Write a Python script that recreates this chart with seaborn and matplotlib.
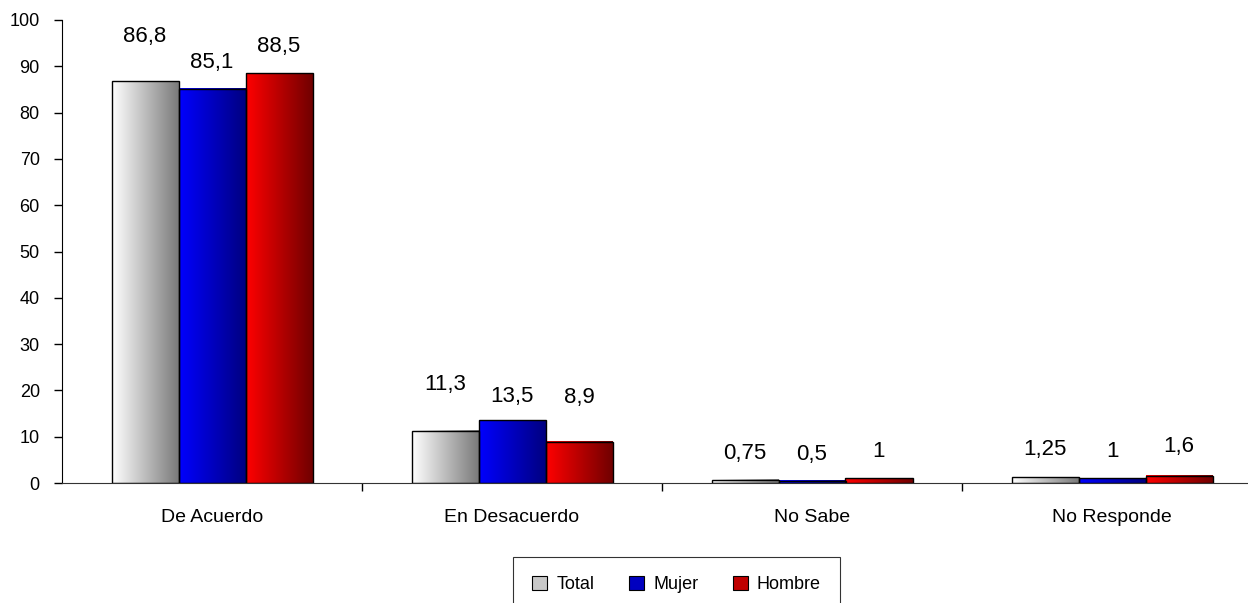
import numpy as np
import pandas as pd
import matplotlib
matplotlib.use('Agg')
import matplotlib.pyplot as plt
import seaborn as sns
from matplotlib.patches import Patch
from matplotlib.ticker import FixedLocator

# datos
categorias = ['De Acuerdo', 'En Desacuerdo', 'No Sabe', 'No Responde']
series = ['Total', 'Mujer', 'Hombre']
total = [86.8, 11.3, 0.75, 1.25]
mujer = [85.1, 13.5, 0.5, 1]
hombre = [88.5, 8.9, 1, 1.6]
etiquetas = [['86,8', '11,3', '0,75', '1,25'],
             ['85,1', '13,5', '0,5', '1'],
             ['88,5', '8,9', '1', '1,6']]

df = pd.DataFrame({
    'categoria': categorias * 3,
    'serie': np.repeat(series, 4),
    'valor': total + mujer + hombre,
})

# gradientes (izq -> der) por serie
gradientes = {'Total': ('#ffffff', '#7a7a7a'),
              'Mujer': ('#0000ff', '#000080'),
              'Hombre': ('#ff0000', '#700000')}
# desplazamiento de las etiquetas (pt) por serie / categoria
desp = [[32, 33, 19, 20], [19, 17, 19, 19], [19, 32, 19, 21]]

sns.set_style('white')
plt.rcParams['font.family'] = ['Liberation Sans', 'DejaVu Sans']
plt.rcParams['text.color'] = 'black'
plt.rcParams['xtick.color'] = 'black'
plt.rcParams['ytick.color'] = 'black'

fig = plt.figure(figsize=(12.48, 6.03), dpi=100)
ax = fig.add_axes([62 / 1248, 1 - 483 / 603, 1200 / 1248, 463 / 603])
sns.barplot(data=df, x='categoria', y='valor', hue='serie', order=categorias,
            hue_order=series, palette=['#bbbbbb', '#0000c0', '#c00000'],
            width=0.67, gap=0, edgecolor='black', linewidth=1, ax=ax,
            legend=False, errorbar=None)

for i, (cont, s) in enumerate(zip(ax.containers, series)):
    cmap = matplotlib.colors.LinearSegmentedColormap.from_list(s, gradientes[s])
    grad = np.linspace(0, 1, 256).reshape(1, -1)
    for j, bar in enumerate(cont):
        x0, y0 = bar.get_x(), bar.get_y()
        w, h = bar.get_width(), bar.get_height()
        ax.imshow(grad, cmap=cmap, aspect='auto', extent=(x0, x0 + w, y0, y0 + h),
                  zorder=1, interpolation='bilinear')
        bar.set_facecolor('none')
        bar.set_zorder(2)
        ax.annotate(etiquetas[i][j], (x0 + w / 2, y0 + h), xytext=(0, desp[i][j]),
                    textcoords='offset points', ha='center', va='center', fontsize=16)

ax.set_xlim(-0.5, 3.5)
ax.set_ylim(0, 100)
ax.set_yticks(range(0, 101, 10))
ax.set_xlabel('')
ax.set_ylabel('')
ax.xaxis.set_minor_locator(FixedLocator([0.5, 1.5, 2.5]))
ax.tick_params(axis='x', which='major', length=0, pad=19, labelsize=14)
ax.tick_params(axis='x', which='minor', length=6, width=1, color='black', bottom=True)
ax.tick_params(axis='y', length=6, width=1, color='black', left=True, pad=10, labelsize=13)
for side in ['top', 'right']:
    ax.spines[side].set_visible(False)
ax.spines['left'].set_color('black')
ax.spines['bottom'].set_color('#333333')

handles = [Patch(facecolor='#c8c8c8', edgecolor='black', linewidth=0.8),
           Patch(facecolor='#0000c0', edgecolor='black', linewidth=0.8),
           Patch(facecolor='#c00000', edgecolor='black', linewidth=0.8)]
leg = fig.legend(handles, series, loc='upper center', bbox_to_anchor=(676.5 / 1248, 1 - 557 / 603),
                 ncol=3, fontsize=13, frameon=True, fancybox=False, handlelength=0.85,
                 handleheight=0.85, columnspacing=1.9, handletextpad=0.5, borderpad=1.05,
                 borderaxespad=0)
leg.get_frame().set_edgecolor('black')
leg.get_frame().set_linewidth(0.8)

fig.savefig('out.png', dpi=100)
